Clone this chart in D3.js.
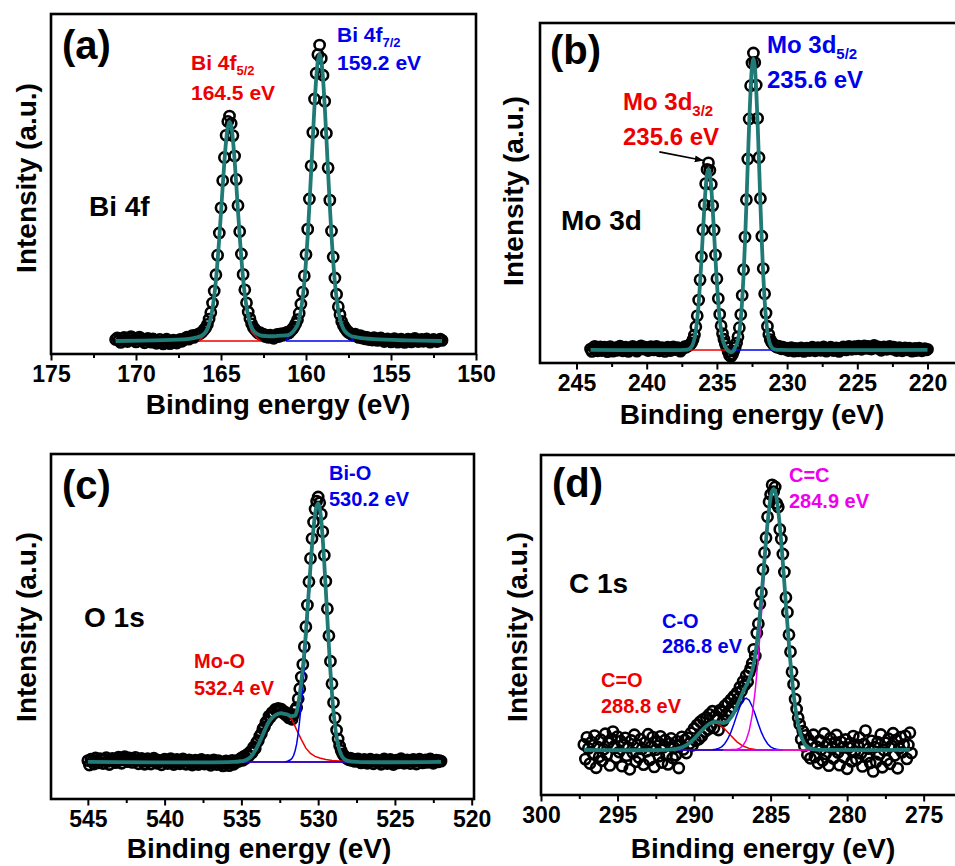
<!DOCTYPE html>
<html lang="en">
<head>
<meta charset="UTF-8">
<title>XPS spectra</title>
<script src="https://cdn.jsdelivr.net/npm/d3@7"></script>
<style>
  body { margin: 0; background: #fff; }
  svg { display: block; font-family: "Liberation Sans", Arial, sans-serif; font-weight: bold; }
  .pt { fill: none; stroke: #000; stroke-width: 2.6; }
  .fit { fill: none; stroke: #207a76; stroke-width: 3.8; stroke-linejoin: round; }
  .comp { fill: none; stroke-width: 1.5; }
</style>
</head>
<body>
<svg width="955" height="866"></svg>
<script>
const scanStep = 0.1;

// (a) Bi 4f, counts every 0.1 eV from bi4fStart downwards
const bi4fStart = 171.2;
const bi4fCounts = [
  0.5, 1, 0.2, -0.5, 0.8, 1.2, 0.3, -0.2, 0.9, 1.5,          // 171.2
  1.1, 0.4, -0.3, 0.6, 1.3, 0.8, 0.1, -0.6, 0.4, 0.9,        // 170.2
  0.2, -0.4, 0.7, 0.3, -0.8, -0.2, 0.5, -0.5, -1, 0.1,       // 169.2
  0.6, -0.3, -0.9, -0.4, 0.3, -0.2, -0.7, 0.2, 0.5, -0.1,    // 168.2
  0.4, 0.9, 1.3, 0.6, 1.4, 1.8, 1.2, 2.0, 1.9, 2.4,          // 167.2
  2.6, 3.1, 3.8, 4.5, 5.6, 7.4, 9.6, 12.8, 16.9, 22.4,       // 166.2
  29.0, 36.5, 45.0, 54.2, 62.0, 69.5, 74.2, 76.0, 73.5, 69.4, // 165.2
  62.5, 54.6, 45.8, 37.0, 29.4, 22.5, 17.3, 12.9, 9.8, 7.6,  // 164.2
  5.8, 4.6, 3.9, 3.2, 2.6, 2.8, 2.0, 2.3, 1.5, 1.9,          // 163.2
  1.2, 2.0, 1.4, 0.9, 1.8, 2.2, 1.5, 2.4, 1.9, 2.6,          // 162.2
  2.3, 3.0, 2.7, 3.4, 4.0, 4.8, 5.9, 7.2, 9.4, 12.5,         // 161.2
  16.5, 22.0, 29.2, 37.8, 48.0, 59.2, 70.5, 81.8, 90.5, 96.8, // 160.2
  100, 95.5, 89.8, 81.0, 70.2, 58.5, 47.6, 37.2, 28.4, 21.3, // 159.2
  15.8, 11.6, 8.9, 6.6, 5.2, 4.3, 3.5, 2.9, 2.6, 2.2,        // 158.2
  1.9, 2.3, 1.6, 1.2, 1.8, 1.0, 1.4, 0.7, 1.2, 0.5,          // 157.2
  0.9, 0.3, 1.1, 0.6, 0.2, 0.8, 1.0, 0.4, -0.2, 0.5,         // 156.2
  0.7, 0.1, -0.3, 0.4, 0.8, 0.2, -0.4, 0.3, 0.6, 0.0,        // 155.2
  -0.5, 0.2, 0.6, 0.1, -0.3, 0.4, 0.9, 0.3, -0.2, 0.2,       // 154.2
  0.5, -0.1, 0.3, 0.7, 0.2, -0.4, 0.1, 0.5, 0.2, -0.2,       // 153.2
  0.3, 0.6, 0.2                                               // 152.2
];
const bi4fFit = [[171.2,0],[167,0.6],[166.5,1.1],[166.2,1.6],[166,2.4],[165.8,4.1],[165.6,7.8],[165.5,11],
  [165.4,15.1],[165.3,20.5],[165.2,27.2],[165.1,34.9],[165,43.4],[164.9,52.3],[164.8,60.7],[164.7,67.6],
  [164.6,72.3],[164.5,74],[164.4,72.7],[164.3,68],[164.2,61.1],[164.1,52.8],[164,43.9],[163.9,35.4],
  [163.8,27.8],[163.7,21.1],[163.6,15.7],[163.5,11.7],[163.4,8.5],[163.2,4.5],[163,2.9],[162.7,1.9],
  [162.3,1.65],[161.9,1.6],[161.5,1.8],[161.2,1.9],[161,2.1],[160.8,2.9],[160.6,4.4],[160.5,5.4],
  [160.4,7.5],[160.3,10.3],[160.2,14.4],[160.1,19.8],[160,26.9],[159.9,35.6],[159.8,45.8],[159.7,56.9],
  [159.6,68.6],[159.5,79.5],[159.4,88.7],[159.3,94.8],[159.2,97],[159.1,94.8],[159,88.7],[158.9,79.5],
  [158.8,68.6],[158.7,56.9],[158.6,45.8],[158.5,35.6],[158.4,26.9],[158.3,19.8],[158.2,14.4],[158.1,10.3],
  [158,7.5],[157.9,5.4],[157.7,3.2],[157.4,1.8],[157,1.2],[156,0.6],[154,0.2],[152,0]];
const bi4f52 = [[166.3,0],[166,1.8],[165.8,3.1],[165.6,6.8],[165.4,14.2],[165.2,26.5],[165,42.8],[164.8,60.2],
  [164.6,72],[164.5,73.7],[164.4,72],[164.2,60.2],[164,42.8],[163.8,26.5],[163.6,14.2],[163.4,6.8],
  [163.2,3.1],[163,1.8],[162.7,0],[166.3,0]];
const bi4f72 = [[161.2,0],[161,1.5],[160.8,2.5],[160.6,4],[160.4,7],[160.2,14],[160,26.5],[159.8,45.5],
  [159.6,68.3],[159.4,88.5],[159.2,96.8],[159,88.5],[158.8,68.3],[158.6,45.5],[158.4,26.5],[158.2,14],
  [158,7],[157.8,4],[157.6,2.5],[157.4,1.5],[157.2,0],[161.2,0]];
const bi4fTicks = [175, 170, 165, 160, 155, 150];

// (b) Mo 3d
const mo3dStart = 244.0;
const mo3dCounts = [
  0.3, -0.5, 0.8, 1.2, 0.2, -0.3, 0.6, 1.0, -0.2, 0.4,       // 244.0
  0.9, 0.1, -0.6, 0.5, 1.1, 0.3, -0.4, 0.2, 0.8, -0.1,       // 243.0
  0.6, 1.3, 0.4, -0.3, 0.2, 0.9, 0.5, -0.5, 0.1, 0.7,        // 242.0
  1.2, 0.6, 0.2, -0.4, 0.5, 1.0, 1.4, 0.8, 0.3, 0.9,         // 241.0
  0.4, -0.2, 0.6, 1.1, 0.5, 0.0, 0.7, 1.2, 0.4, -0.3,        // 240.0
  0.3, 0.8, 0.2, -0.5, 0.4, 0.9, 0.3, -0.2, 0.6, 1.0,        // 239.0
  0.5, 0.1, 0.8, 0.3, -0.4, 0.2, 0.7, 1.1, 0.9, 1.3,         // 238.0
  1.5, 1.8, 2.4, 3.5, 5.0, 7.8, 11.5, 16.8, 23.6, 31.4,      // 237.0
  40.5, 48.9, 56.0, 60.8, 63.0, 60.5, 55.8, 48.6, 40.4, 32.0, // 236.0
  24.0, 17.3, 12.0, 8.1, 5.5, 3.6, 2.0, 0.8, -0.6, -1.8,     // 235.0
  -2.2, -1.5, -0.4, 0.8, 2.3, 4.4, 7.5, 11.9, 18.4, 27.0,    // 234.0
  38.0, 50.6, 64.3, 77.8, 89.0, 96.6, 100, 96.8, 89.2, 78.0, // 233.0
  64.8, 51.0, 38.3, 27.4, 18.9, 12.4, 8.0, 5.2, 3.5, 2.6,    // 232.0
  2.0, 1.6, 1.2, 0.9, 1.3, 0.7, 0.4, 0.9, 0.5, 0.2,          // 231.0
  0.6, -0.2, 0.3, 0.8, 0.1, -0.4, 0.5, 0.2, -0.3, 0.4,       // 230.0
  0.7, 0.2, -0.5, 0.1, 0.6, 0.3, -0.2, 0.5, 0.9, 0.1,        // 229.0
  -0.3, 0.4, 0.8, 0.2, -0.1, 0.6, 1.0, 0.3, -0.4, 0.2,       // 228.0
  0.5, 0.9, 0.4, -0.2, 0.3, 0.7, 0.1, -0.5, 0.2, 0.6,        // 227.0
  1.0, 0.5, 0.0, 0.6, 1.2, 0.7, 0.2, 0.8, 1.1, 0.4,          // 226.0
  0.9, 1.3, 0.6, 0.2, 0.8, 1.4, 1.0, 0.5, 1.2, 0.7,          // 225.0
  0.3, 0.9, 1.5, 1.1, 0.6, 1.0, 0.4, -0.1, 0.5, 1.0,         // 224.0
  0.6, 0.2, 0.8, 1.2, 0.7, 0.3, 0.9, 0.5, -0.2, 0.4,         // 223.0
  0.8, 0.3, -0.3, 0.2, 0.7, 0.4, 0.0, 0.6, 0.3, -0.4,        // 222.0
  0.2, 0.5, -0.2, 0.3, 0.6, 0.1, -0.3, 0.2, 0.4, 0.0,        // 221.0
  0.2                                                         // 220.0
];
const mo3dFit = [[244,0],[237.3,0],[237.1,0.1],[236.9,0.6],[236.8,1.1],[236.7,2.1],[236.6,3.8],[236.5,6.5],
  [236.4,10.4],[236.3,15.7],[236.2,22.5],[236.1,30.5],[236,39.2],[235.9,47.5],[235.8,54.6],[235.7,59.4],
  [235.6,61],[235.5,59.4],[235.4,54.6],[235.3,47.5],[235.2,39.2],[235.1,30.5],[235,22.5],[234.9,15.7],
  [234.8,10.4],[234.7,6.5],[234.6,3.8],[234.5,2.1],[234.4,1.1],[234.3,0.2],[234.2,-0.3],[234.1,-0.6],
  [234,-0.8],[233.9,-0.6],[233.8,-0.2],[233.7,0.9],[233.6,1.8],[233.5,3.4],[233.4,6.1],[233.3,10.4],
  [233.2,16.7],[233.1,25.2],[233,36.2],[232.9,49],[232.8,62.9],[232.7,76.3],[232.6,87.7],[232.5,95.4],
  [232.4,98],[232.3,95.4],[232.2,87.7],[232.1,76.3],[232,62.9],[231.9,49],[231.8,36.2],[231.7,25.2],
  [231.6,16.7],[231.5,10.4],[231.4,6.1],[231.3,3.4],[231.2,1.8],[231.1,0.9],[231,0.4],[230.8,0.1],
  [230.5,0],[220,0]];
const mo3d32 = [[237.1,0],[236.9,0.6],[236.7,2.1],[236.5,6.5],[236.3,15.7],[236.1,30.5],[235.9,47.5],
  [235.7,59.4],[235.6,61],[235.5,59.4],[235.3,47.5],[235.1,30.5],[234.9,15.7],[234.7,6.5],[234.5,2.1],
  [234.3,0.6],[234.1,0],[237.1,0]];
const mo3d52 = [[234,0],[233.8,0.4],[233.6,1.8],[233.4,6.1],[233.2,16.7],[233,36.2],[232.8,62.9],[232.6,87.7],
  [232.4,98],[232.2,87.7],[232,62.9],[231.8,36.2],[231.6,16.7],[231.4,6.1],[231.2,1.8],[231,0.4],
  [230.8,0],[234,0]];
const mo3dTicks = [245, 240, 235, 230, 225, 220];

// (c) O 1s
const o1sStart = 545.0;
const o1sCounts = [
  0.5, -1.2, 1.0, 0.3, -0.8, 1.5, 0.6, -0.4, 1.2, 0.8,       // 545.0
  -0.6, 0.9, 1.6, 0.2, -1.0, 0.7, 1.3, 0.4, -0.3, 1.1,       // 544.0
  1.8, 0.6, -0.5, 1.4, 2.0, 0.9, 0.1, 1.5, 0.8, -0.2,        // 543.0
  1.0, 1.7, 0.5, -0.7, 0.8, 1.3, 0.2, -0.9, 0.6, 1.2,        // 542.0
  0.3, -0.8, 0.9, 1.4, 0.4, -0.5, 0.7, 0.1, -1.1, 0.5,       // 541.0
  1.0, 0.2, -0.6, 0.8, 1.2, -0.2, -1.0, 0.4, 0.9, 0.0,       // 540.0
  -0.7, 0.5, 1.1, 0.3, -0.9, 0.2, 0.8, -0.4, -1.2, 0.1,      // 539.0
  0.7, -0.3, -1.0, 0.4, 0.9, 0.0, -0.8, 0.3, 0.6, -0.5,      // 538.0
  -1.3, 0.2, 0.8, -0.2, -1.0, 0.5, 0.1, -0.7, -1.5, -0.3,    // 537.0
  0.4, -0.6, -1.4, -0.2, 0.6, -0.9, -0.3, 0.5, 0.2, 1.0,     // 536.0
  1.5, 0.6, 2.2, 1.4, 2.9, 2.3, 3.9, 3.5, 5.6, 5.1,          // 535.0
  7.4, 8.0, 9.8, 10.6, 12.5, 13.2, 15.0, 15.4, 17.3, 17.0,   // 534.0
  18.6, 18.3, 19.8, 19.1, 20.2, 19.4, 19.9, 18.6, 19.0, 17.6, // 533.0
  17.8, 16.6, 16.9, 16.1, 17.8, 19.6, 20.5, 23.8, 27.6, 32.0, // 532.0
  36.8, 43.5, 51.0, 59.2, 68.0, 76.8, 84.3, 90.5, 95.4, 98.4, // 531.0
  100, 97.8, 93.5, 86.9, 78.0, 68.2, 57.8, 47.6, 38.0, 29.5, // 530.0
  22.4, 16.6, 12.0, 8.6, 6.0, 4.3, 3.0, 2.2, 1.6, 1.2,       // 529.0
  0.8, 1.4, 0.5, 1.0, 0.2, 0.7, 1.1, 0.3, -0.4, 0.6,         // 528.0
  0.9, 0.1, -0.5, 0.4, 1.0, 0.2, -0.7, 0.5, 0.8, -0.2,       // 527.0
  0.3, -0.9, 0.6, 1.1, 0.0, -0.6, 0.4, 0.9, -0.3, -1.0,      // 526.0
  0.2, 0.7, -0.4, 0.5, 1.2, 0.3, -0.5, 0.1, 0.8, 0.4,        // 525.0
  -0.6, 0.3, 0.9, 0.2, -0.8, 0.5, 1.0, 0.1, -0.4, 0.6,       // 524.0
  0.8, -0.2, 0.4, 1.1, 0.3, -0.5, 0.2, 0.7, 0.0, 0.5,        // 523.0
  0.3                                                         // 522.0
];
const o1sFit = [[545,0],[535.5,0],[535,0.3],[534.8,0.5],[534.6,1],[534.4,1.8],[534.2,3.4],[534,5.3],
  [533.8,7.7],[533.6,10.3],[533.4,13],[533.2,15.2],[533,16.6],[532.8,17.6],[532.6,18.2],[532.4,18.4],
  [532.2,18.1],[532,17.9],[531.8,17.3],[531.7,17.3],[531.6,17.4],[531.5,17.5],[531.4,18.9],[531.3,21.7],
  [531.2,25.5],[531.1,30.1],[531,35.2],[530.9,41.4],[530.8,48.8],[530.7,56.9],[530.6,65.3],[530.5,73.7],
  [530.4,81.6],[530.3,88.3],[530.2,93.5],[530.1,96.6],[530,97.6],[529.9,95.9],[529.8,91.3],[529.7,84],
  [529.6,74.8],[529.5,64.6],[529.4,54],[529.3,43.7],[529.2,34.1],[529.1,25.9],[529,19],[528.9,13.6],
  [528.8,9.4],[528.7,6.4],[528.6,4.2],[528.5,2.7],[528.4,1.7],[528.3,1.1],[528.2,0.7],[528,0.3],
  [527.5,0],[522,0]];
const o1sMoO = [[535.6,0],[535.2,0.2],[534.8,0.5],[534.4,1.8],[534,5.3],[533.6,10.3],[533.2,15.2],
  [532.8,17.6],[532.4,18.3],[532,17.6],[531.7,15.9],[531.4,12.1],[531.1,8.5],[530.8,5.2],[530.5,3.2],
  [530.2,2.1],[529.9,1.5],[529.5,0.9],[529.1,0.5],[528.6,0.3],[528,0.1],[527.6,0],[535.6,0]];
const o1sBiO = [[535.2,0],[532.2,0],[532,0.3],[531.8,0.8],[531.7,1.4],[531.6,2.4],[531.5,4.2],[531.4,6.8],
  [531.3,10.8],[531.2,15.8],[531.1,21.6],[531,28],[530.9,35.4],[530.8,43.6],[530.7,52.5],[530.6,61.6],
  [530.5,70.5],[530.4,78.8],[530.3,85.9],[530.2,91.4],[530.1,94.8],[530,96],[529.9,94.4],[529.8,89.9],
  [529.7,82.8],[529.6,73.8],[529.5,63.7],[529.4,53.2],[529.3,43],[529.2,33.6],[529.1,25.4],[529,18.6],
  [528.9,13.2],[528.8,9],[528.7,6],[528.6,3.9],[528.5,2.4],[528.4,1.4],[528.3,0.8],[528.2,0.5],
  [528,0.1],[527.8,0],[535.2,0]];
const o1sTicks = [545, 540, 535, 530, 525, 520];

// (d) C 1s
const c1sStart = 297.2;
const c1sCounts = [
  2.1, -3.5, 4.8, 0.6, -5.2, 3.0, -1.4, 5.5, -6.8, 1.2,      // 297.2
  -2.6, 3.9, -4.1, 0.3, 6.2, -1.8, 2.7, -5.9, 4.2, 7.0,      // 296.2
  1.5, -3.0, 5.1, -0.8, 3.4, -6.2, 2.0, 4.6, -2.2, 0.9,      // 295.2
  -7.4, 3.6, -1.1, 5.8, -4.5, 1.9, -2.9, 4.1, 0.4, -5.6,     // 294.2
  2.8, -0.5, 6.0, -3.8, 1.4, 4.9, -6.5, 0.1, 3.2, -2.4,      // 293.2
  5.2, -4.8, 1.0, 3.7, -1.9, -5.5, 2.5, 4.4, -3.1, 0.8,      // 292.2
  -2.0, 3.3, -6.9, 1.7, 5.0, 0.2, 3.8, -1.2, 4.6, 2.4,       // 291.2
  6.5, 1.8, 8.2, 3.5, 9.6, 4.1, 10.8, 5.2, 11.7, 7.0,        // 290.2
  12.4, 7.8, 13.6, 9.1, 14.8, 8.4, 13.0, 11.9, 7.6, 15.2,    // 289.2
  14.6, 11.2, 16.8, 13.5, 17.9, 15.0, 19.2, 16.4, 20.5, 18.1, // 288.2
  21.8, 19.6, 24.0, 22.5, 26.1, 24.7, 28.3, 26.0, 29.6, 31.2, // 287.2
  33.1, 38.4, 35.9, 44.6, 48.2, 55.8, 60.1, 68.9, 75.3, 81.0, // 286.2
  89.0, 94.7, 97.5, 101.2, 98.6, 100.4, 94.1, 92.8, 84.2, 80.5, // 285.2
  74.8, 67.9, 58.2, 52.6, 44.0, 37.5, 29.8, 25.1, 19.4, 15.6, // 284.2
  12.3, 9.8, 4.1, 7.2, 1.5, 5.6, -1.8, 3.9, -3.2, 2.4,       // 283.2
  5.8, -2.7, 1.3, -5.1, 3.6, 0.2, -4.0, 6.3, -1.5, 2.2,      // 282.2
  -6.0, 4.5, 0.7, -3.3, 2.9, 5.7, -1.0, -5.8, 3.1, 1.0,      // 281.2
  -2.8, 4.0, -7.2, 0.9, 2.6, -4.4, 5.3, -0.6, -3.6, 1.8,     // 280.2
  4.7, -1.3, -6.3, 2.3, 7.4, -2.5, 0.5, -5.0, 3.5, -8.2,     // 279.2
  1.1, -4.6, 3.0, -1.7, 5.9, -6.6, 0.0, 2.7, -3.9, 4.3,      // 278.2
  -5.3, 1.6, 6.4, -2.1, 3.8, -7.0, 0.6, 4.9, -0.9, 2.0,      // 277.2
  5.4, -3.4, 1.9, 6.6, -1.2                                   // 276.2
];
const c1sFit = [[297.2,0],[291.6,0.1],[291,0.6],[290.5,1.8],[290,4.2],[289.5,7.4],[289,10],[288.7,10.7],
  [288.2,10.4],[288,10.4],[287.8,11],[287.6,12.3],[287.4,14.2],[287.2,16.8],[287,19.5],[286.8,22.2],
  [286.6,24.5],[286.4,26.9],[286.2,30.3],[286,36.5],[285.8,45.7],[285.6,58.3],[285.4,72.8],[285.2,86.5],
  [285,96.3],[284.9,98.9],[284.8,99.6],[284.7,98.6],[284.6,95.8],[284.4,85.7],[284.2,71.5],[284,55.5],
  [283.8,40.1],[283.6,26.9],[283.4,16.8],[283.2,9.7],[283,5.3],[282.8,2.6],[282.6,1.2],[282.4,0.5],
  [282,0.1],[281.5,0],[275.9,0]];
const c1sCdO = [[291.6,0],[291,0.6],[290.5,1.8],[290,4.2],[289.5,7.4],[289,9.9],[288.7,10.5],[288.4,9.9],
  [288,8],[287.6,5.5],[287.2,3.1],[286.8,1.5],[286.4,0.6],[286,0.15],[285.6,0],[282.4,0],[291.6,0]];
const c1sCO = [[291.1,0],[288.8,0.1],[288.6,0.3],[288.4,0.6],[288.2,1.2],[288,2.4],[287.8,4.2],[287.6,6.7],
  [287.4,9.9],[287.2,13.4],[287,16.6],[286.8,19],[286.6,19.8],[286.4,19],[286.2,16.6],[286,13.4],
  [285.8,9.9],[285.6,6.7],[285.4,4.2],[285.2,2.4],[285,1.2],[284.8,0.6],[284.6,0.3],[284.4,0.1],
  [284.2,0],[291.1,0]];
const c1sCC = [[288.1,0],[287.2,0.3],[287,0.7],[286.8,1.7],[286.6,3.7],[286.4,7.3],[286.2,13.4],[286,22.9],
  [285.8,35.8],[285.6,51.6],[285.4,68.6],[285.2,84.1],[285,95.1],[284.9,98],[284.8,99],[284.7,98.1],
  [284.6,95.5],[284.4,85.6],[284.2,71.5],[284,55.5],[283.8,40.1],[283.6,26.9],[283.4,16.8],[283.2,9.7],
  [283,5.3],[282.8,2.6],[282.6,1.2],[282.4,0.5],[282.2,0.2],[281.8,0],[288.1,0]];
const c1sTicks = [300, 295, 290, 285, 280, 275];

const RED = "#ee0000", BLUE = "#0000ee", MAG = "#ee00ee";

function scan(start, counts) {
  return counts.map((v, i) => [+(start - i * scanStep).toFixed(1), v]);
}

const panels = [
  { frame: [51, 14, 425, 340], xDomain: [175, 150], yDomain: [-4.4, 110.5], ticks: bi4fTicks,
    points: scan(bi4fStart, bi4fCounts), fit: bi4fFit,
    comps: [[bi4f52, RED], [bi4f72, BLUE]],
    xTitle: [278, 414], yTitle: [36, 178],
    labels: [
      ["(a)", null, 62, 59, 40, "#000"],
      ["Bi 4f", "5/2", 191, 70, 21, RED],
      ["164.5 eV", null, 191, 100, 21, RED],
      ["Bi 4f", "7/2", 337, 42, 21, BLUE],
      ["159.2 eV", null, 337, 70, 21, BLUE],
      ["Bi 4f", null, 89, 216, 28, "#000"]
    ] },
  { frame: [540, 23, 424, 340], xDomain: [247.6, 217.4], yDomain: [-4.4, 110.1], ticks: mo3dTicks,
    points: scan(mo3dStart, mo3dCounts), fit: mo3dFit,
    comps: [[mo3d32, RED], [mo3d52, BLUE]],
    xTitle: [752, 424], yTitle: [523, 191],
    arrow: [[239.1, 66.7], [235.95, 63.8]],
    labels: [
      ["(b)", null, 550, 64, 40, "#000"],
      ["Mo 3d", "5/2", 767, 53, 24, BLUE],
      ["235.6 eV", null, 767, 88, 24, BLUE],
      ["Mo 3d", "3/2", 623, 110, 24, RED],
      ["235.6 eV", null, 623, 145, 24, RED],
      ["Mo 3d", null, 561, 230, 28, "#000"]
    ] },
  { frame: [51, 454, 423, 345], xDomain: [547.4, 519.85], yDomain: [-14, 116.2], ticks: o1sTicks,
    points: scan(o1sStart, o1sCounts), fit: o1sFit,
    comps: [[o1sMoO, RED], [o1sBiO, BLUE]],
    xTitle: [259, 858], yTitle: [36, 627],
    labels: [
      ["(c)", null, 62, 499, 40, "#000"],
      ["Bi-O", null, 329, 480, 20, BLUE],
      ["530.2 eV", null, 329, 506, 20, BLUE],
      ["Mo-O", null, 194, 668, 20, RED],
      ["532.4 eV", null, 194, 695, 20, RED],
      ["O 1s", null, 84, 627, 28, "#000"]
    ] },
  { frame: [541, 455, 424, 340], xDomain: [300, 272.3], yDomain: [-17.2, 112.6], ticks: c1sTicks,
    points: scan(c1sStart, c1sCounts), fit: c1sFit,
    comps: [[c1sCdO, RED], [c1sCO, BLUE], [c1sCC, MAG]],
    xTitle: [763, 858], yTitle: [527, 627],
    labels: [
      ["(d)", null, 552, 497, 40, "#000"],
      ["C=C", null, 789, 482, 20, MAG],
      ["284.9 eV", null, 789, 508, 20, MAG],
      ["C-O", null, 662, 628, 20, BLUE],
      ["286.8 eV", null, 662, 653, 20, BLUE],
      ["C=O", null, 601, 687, 20, RED],
      ["288.8 eV", null, 601, 713, 20, RED],
      ["C 1s", null, 569, 593, 28, "#000"]
    ] }
];

const svg = d3.select("svg");

svg.append("defs").append("marker")
    .attr("id", "head")
    .attr("viewBox", "0 0 10 8")
    .attr("refX", 10).attr("refY", 4)
    .attr("markerWidth", 9).attr("markerHeight", 7)
    .attr("markerUnits", "userSpaceOnUse")
    .attr("orient", "auto")
  .append("path")
    .attr("d", "M0,0L10,4L0,8Z")
    .attr("fill", "#000");

panels.forEach(p => {
  const [left, top, w, h] = p.frame;
  const x = d3.scaleLinear().domain(p.xDomain).range([left, left + w]);
  const y = d3.scaleLinear().domain(p.yDomain).range([top + h, top]);
  const g = svg.append("g");
  const line = d3.line().x(d => x(d[0])).y(d => y(d[1]));

  // ticks under the frame
  const minor = p.ticks.slice(1).map((t, i) => (t + p.ticks[i]) / 2);
  g.append("g")
      .attr("transform", `translate(0,${top + h})`)
      .call(d3.axisBottom(x).tickValues(minor).tickSize(4).tickFormat(""))
      .call(a => a.select(".domain").remove())
      .selectAll("line").attr("stroke-width", 2);
  const ax = g.append("g")
      .attr("transform", `translate(0,${top + h})`)
      .call(d3.axisBottom(x).tickValues(p.ticks).tickSize(6.5).tickPadding(5).tickFormat(d3.format("d")))
      .call(a => a.select(".domain").remove());
  ax.attr("font-family", null).attr("font-size", null);
  ax.selectAll("line").attr("stroke-width", 2);
  ax.selectAll("text").attr("font-size", 23).attr("fill", "#000");

  g.append("rect")
      .attr("x", left).attr("y", top).attr("width", w).attr("height", h)
      .attr("fill", "none").attr("stroke", "#000").attr("stroke-width", 2.6);

  g.selectAll("circle.pt")
    .data(p.points)
    .enter().append("circle")
      .attr("class", "pt")
      .attr("cx", d => x(d[0]))
      .attr("cy", d => y(d[1]))
      .attr("r", 5.1);

  p.comps.forEach(([data, color]) => {
    g.append("path")
        .attr("class", "comp")
        .attr("stroke", color)
        .attr("d", line(data));
  });

  g.append("path")
      .attr("class", "fit")
      .attr("d", line.curve(d3.curveCatmullRom)(p.fit));

  if (p.arrow) {
    g.append("line")
        .attr("x1", x(p.arrow[0][0])).attr("y1", y(p.arrow[0][1]))
        .attr("x2", x(p.arrow[1][0])).attr("y2", y(p.arrow[1][1]))
        .attr("stroke", "#000").attr("stroke-width", 1.6)
        .attr("marker-end", "url(#head)");
  }

  p.labels.forEach(([txt, sub, lx, ly, size, color]) => {
    const t = g.append("text")
        .attr("x", lx).attr("y", ly)
        .attr("font-size", size)
        .attr("fill", color)
        .text(txt);
    if (sub) {
      t.append("tspan")
          .attr("font-size", Math.round(size * 0.62))
          .attr("dy", size * 0.24)
          .text(sub);
    }
  });

  g.append("text")
      .attr("x", p.xTitle[0]).attr("y", p.xTitle[1])
      .attr("text-anchor", "middle")
      .attr("font-size", 28)
      .text("Binding energy (eV)");

  g.append("text")
      .attr("transform", `translate(${p.yTitle[0]},${p.yTitle[1]}) rotate(-90)`)
      .attr("text-anchor", "middle")
      .attr("font-size", 28)
      .text("Intensity (a.u.)");
});
</script>
</body>
</html>
